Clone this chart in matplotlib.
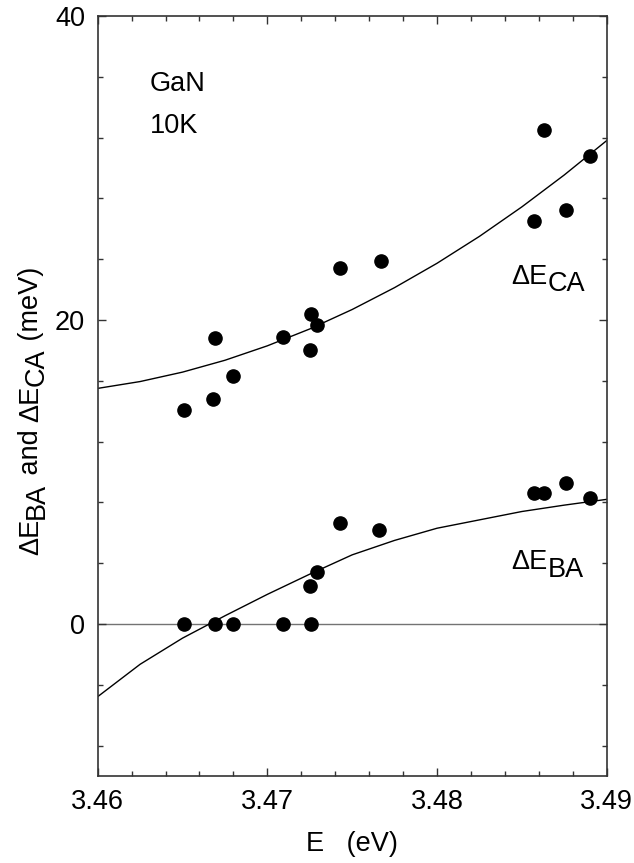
import matplotlib
matplotlib.use("Agg")
import matplotlib.pyplot as plt
from matplotlib.ticker import MultipleLocator

plt.rcParams['font.family'] = ['Liberation Sans', 'DejaVu Sans']

# --- measured splittings (meV) vs exciton energy (eV) ---
ca_E = [3.4651, 3.4668, 3.4669, 3.4680, 3.4709, 3.4725, 3.4726, 3.4729,
        3.4743, 3.4767, 3.4857, 3.4863, 3.4876, 3.4890]
ca_dE = [14.1, 14.8, 18.8, 16.3, 18.85, 18.0, 20.4, 19.7,
         23.45, 23.85, 26.5, 32.5, 27.25, 30.8]

ba_E = [3.4651, 3.4669, 3.4680, 3.4709, 3.4726, 3.4725, 3.4729,
        3.4743, 3.4766, 3.4857, 3.4863, 3.4876, 3.4890]
ba_dE = [0.0, 0.0, 0.0, 0.0, 0.0, 2.5, 3.4,
         6.65, 6.2, 8.65, 8.65, 9.25, 8.3]

# --- fitted curves, every 2.5 meV ---
fit_E = [3.4600, 3.4625, 3.4650, 3.4675, 3.4700, 3.4725, 3.4750,
         3.4775, 3.4800, 3.4825, 3.4850, 3.4875, 3.4900]
ca_fit_dE = [15.5, 15.95, 16.57, 17.35, 18.3, 19.41, 20.69,
             22.13, 23.73, 25.5, 27.44, 29.54, 31.8]
ba_fit_dE = [-4.78, -2.65, -0.93, 0.54, 1.95, 3.28, 4.55,
             5.5, 6.3, 6.85, 7.4, 7.82, 8.2]

FS = 19.5

fig = plt.figure(figsize=(6.34, 8.63), dpi=100)
ax = fig.add_axes([0.1541, 0.1008, 0.8028, 0.8807])

ax.axhline(0, color='0.45', lw=1.0, zorder=1)
ax.plot(fit_E, ca_fit_dE, color='black', lw=1.0, zorder=2)
ax.plot(fit_E, ba_fit_dE, color='black', lw=1.0, zorder=2)
ax.plot(ca_E, ca_dE, 'o', color='black', ms=9.5, zorder=3)
ax.plot(ba_E, ba_dE, 'o', color='black', ms=9.5, zorder=3)

ax.set_xlim(3.46, 3.49)
ax.set_ylim(-10, 40)
ax.set_xticks([3.46, 3.47, 3.48, 3.49])
ax.set_xticklabels(['3.46', '3.47', '3.48', '3.49'])
ax.set_yticks([0, 20, 40])
ax.xaxis.set_minor_locator(MultipleLocator(0.002))
ax.yaxis.set_minor_locator(MultipleLocator(4))
ax.tick_params(which='both', direction='in', top=True, right=True,
               labelsize=FS, width=1.0, color='0.2')
ax.tick_params(which='major', length=6, pad=9)
ax.tick_params(which='minor', length=3.5)
for s in ax.spines.values():
    s.set_linewidth(1.2)
    s.set_color('0.2')

ax.set_xlabel('E   (eV)', fontsize=FS, labelpad=12)

# annotations inside the plot
ax.text(3.46308, 35.09, 'GaN', fontsize=FS)
ax.text(3.46308, 32.28, '10K', fontsize=FS)


def label_with_sub(x, y, main, sub, drop=5.5):
    t = ax.text(x, y, main, fontsize=FS, va='baseline')
    ax.annotate(sub, xy=(1, 0), xycoords=t, xytext=(0, -drop),
                textcoords='offset points', fontsize=FS, va='bottom')


label_with_sub(3.4844, 22.39, '\u0394E', 'CA')
label_with_sub(3.4844, 3.6, '\u0394E', 'BA')

# rotated y label built from pieces so subscripts stay full size
pieces = [('\u0394E', 0), ('BA', 4), (' and ', 0), ('\u0394E', 0),
          ('CA', 4), (' (meV)', 0)]
prev = None
prev_drop = 0
for txt, drop in pieces:
    if prev is None:
        prev = ax.text(-0.105, 0.291, txt, fontsize=FS, rotation=90,
                       ha='right', va='bottom', transform=ax.transAxes)
    else:
        prev = ax.annotate(txt, xy=(1, 1), xycoords=prev,
                           xytext=(drop - prev_drop, 0),
                           textcoords='offset points', fontsize=FS,
                           rotation=90, ha='right', va='bottom',
                           annotation_clip=False)
    prev_drop = drop

fig.savefig('out.png', dpi=100)
